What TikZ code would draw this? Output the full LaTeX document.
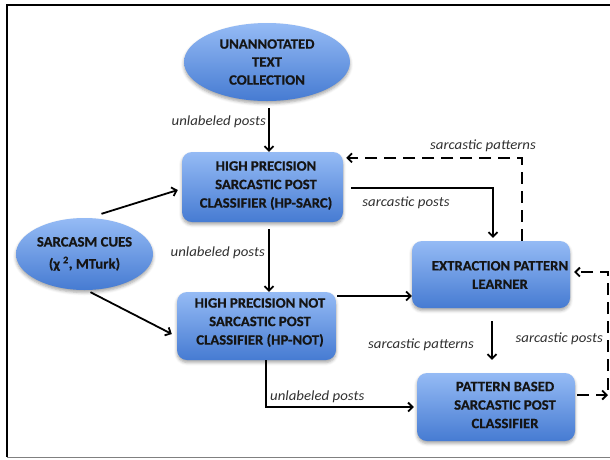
\documentclass[tikz,border=0pt]{standalone}
\usepackage{fontspec}
\setmainfont{Carlito}[FakeStretch=1.03, BoldFeatures={FakeBold=0.6}]
\newfontfamily\labfont{Carlito}[FakeStretch=1.06]
\usetikzlibrary{arrows.meta,shapes.geometric,shadows.blur,calc}
\definecolor{boxtop}{HTML}{95BBF5}
\definecolor{boxbot}{HTML}{467BD2}
\definecolor{txt}{HTML}{151515}
\definecolor{lbl}{HTML}{303030}
\begin{document}
\begin{tikzpicture}[x=1pt,y=-1pt,
  bluefill/.style={top color=boxtop, bottom color=boxbot, draw=none,
    blur shadow={shadow xshift=0pt, shadow yshift=-2.5pt, shadow blur radius=3pt, shadow opacity=35}},
  boxnode/.style={bluefill, rectangle, rounded corners=10pt, inner sep=0pt},
  ellnode/.style={bluefill, ellipse, inner sep=0pt, text=txt, align=center,
    font=\fontsize{14.3}{18}\selectfont\bfseries},
  boxtext/.style={text=txt, align=center, inner sep=0pt,
    font=\fontsize{14.3}{18.5}\selectfont\bfseries},
  lab/.style={font=\labfont\fontsize{14}{16}\selectfont\itshape, text=lbl, inner sep=0pt},
  arr/.style={line width=1.8pt, draw=black, -{Straight Barb[length=4.5pt,width=9pt]}},
  darr/.style={arr, dash pattern=on 12pt off 7pt},
]
\useasboundingbox (0,0) rectangle (610,459);
% frame
\draw[line width=2.4pt] (612,5) -- (7,5) -- (7,457);
\draw[gray, line width=1.2pt] (7,457.5) -- (612,457.5);

% nodes
\node[ellnode, minimum width=166pt, minimum height=78pt] (una) at (267,62) {UNANNOTATED\\TEXT\\COLLECTION};
\node[ellnode, minimum width=137pt, minimum height=72pt] (cues) at (84.5,254)
  {SARCASM CUES\\[4pt](χ\hspace{3pt}\textsuperscript{2}, MTurk)};

\node[boxnode, minimum width=161pt, minimum height=70pt] (sarc) at (262.5,187) {};
\node[boxtext] (sarct) at (266,185.5) {HIGH PRECISION\\SARCASTIC POST\\CLASSIFIER (HP-SARC)};

\node[boxnode, minimum width=159pt, minimum height=68pt] (hpnot) at (256.5,326) {};
\node[boxtext] (hpnott) at (260,322.5) {HIGH PRECISION NOT\\SARCASTIC POST\\CLASSIFIER (HP-NOT)};

\node[boxnode, minimum width=158pt, minimum height=67pt] (ext) at (491,274.5) {};
\node[boxtext] (extt) at (500,275) {EXTRACTION PATTERN\\LEARNER};

\node[boxnode, minimum width=158pt, minimum height=68pt] (pat) at (496,407) {};
\node[boxtext] (patt) at (505,405) {PATTERN BASED\\SARCASTIC POST\\CLASSIFIER};

% labels
\node[lab, anchor=east] (l1) at (266,122) {unlabeled posts};
\node[lab] (l2) at (483,146) {sarcastic patterns};
\node[lab] (l3) at (406,203) {sarcastic posts};
\node[lab, anchor=east] (l4) at (265,253) {unlabeled posts};
\node[lab] (l5) at (421,345) {sarcastic patterns};
\node[lab, anchor=east] (l6) at (603,339) {sarcastic posts};
\node[lab, anchor=west] (l7) at (270,397) {unlabeled posts};

% connectors
\draw[arr] ([xshift=2pt,yshift=-7pt]una.south) -- ([xshift=2pt]una.south |- sarc.north);
\draw[arr] ($(cues.north)+(17,-4)$) -- ([xshift=-4pt,yshift=-3pt]sarc.west);
\draw[arr] ([xshift=6pt,yshift=-2pt]cues.south) -- ([xshift=-5pt,yshift=-8pt]hpnot.west);
\draw[arr] ([xshift=6.5pt,yshift=-7pt]sarc.south) -- ([xshift=6.5pt]sarc.south |- hpnot.north);
\draw[arr] ([xshift=8pt,yshift=-1pt]sarc.east) -| ([xshift=2pt,yshift=3pt]ext.north);
\draw[darr] ([xshift=31pt]ext.north) |- ([xshift=3pt,yshift=-6pt]sarc.north east);
\coordinate (a) at ([xshift=1pt,yshift=30pt]hpnot.east);
\draw[arr] (a) -- (a -| ext.west);
\draw[arr] ([xshift=9.5pt]hpnot.south) |- ([xshift=-3pt]pat.west);
\coordinate (b) at ([xshift=1pt,yshift=-13pt]ext.south);
\draw[arr] (b) -- ($(b |- pat.north)+(0,-13)$);
\coordinate (rc) at (608,395);
\draw[darr] ([xshift=2pt,yshift=12pt]pat.east) -- (rc);
\draw[darr] ($(rc)+(0,-5)$) |- ([xshift=4pt,yshift=2.5pt]ext.east);
\end{tikzpicture}
\end{document}
